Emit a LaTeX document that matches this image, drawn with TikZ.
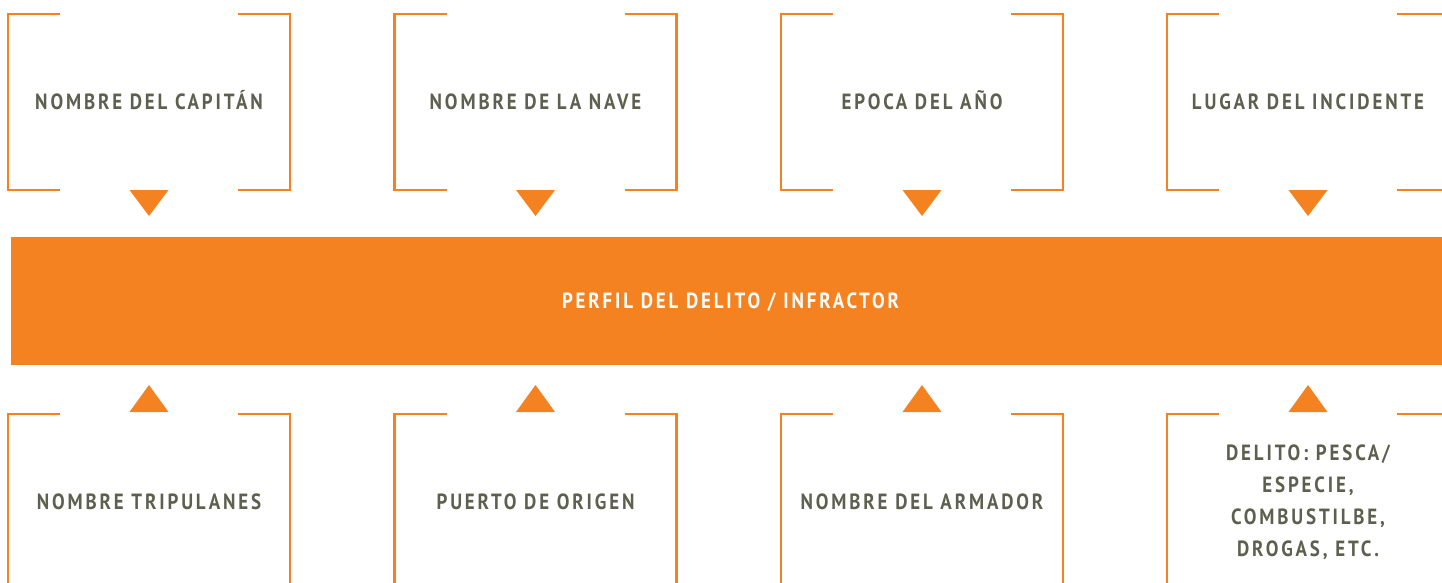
\documentclass[tikz,border=0pt]{standalone}
\usepackage{fontspec}
\usetikzlibrary{positioning,calc}
\newfontfamily\boxfont[FakeStretch=0.86,LetterSpace=13,UprightFont=*-Bold]{PT Sans}
\definecolor{frameorange}{RGB}{245,130,32}
\definecolor{labelgrey}{RGB}{93,96,79}

% side brackets of a box node
\newcommand{\drawbrackets}[1]{%
  \draw[bracket] ($(#1.north west)+(52,0)$) -- (#1.north west) -- (#1.south west) -- ($(#1.south west)+(52,0)$);
  \draw[bracket] ($(#1.north east)+(-52,0)$) -- (#1.north east) -- (#1.south east) -- ($(#1.south east)+(-52,0)$);}
% pointer from a top box down to the bar
\newcommand{\downpointer}[1]{%
  \fill[frameorange] ($(#1.south)+(-19.5,0)$) -- ($(#1.south)+(19.5,0)$) -- ($(#1.south)+(0,26)$) -- cycle;}
% pointer from a bottom box up to the bar
\newcommand{\uppointer}[1]{%
  \fill[frameorange] ($(#1.north)+(-19.5,-2)$) -- ($(#1.north)+(19.5,-2)$) -- ($(#1.north)+(0,-29)$) -- cycle;}

\begin{document}
\begin{tikzpicture}[
    x=1pt, y=-1pt,
    bracket/.style={draw=frameorange, line width=2.2pt},
    infobox/.style={rectangle, minimum width=282pt, minimum height=176pt, inner sep=0pt, outer sep=0pt,
                    font=\boxfont\fontsize{22}{32}\selectfont, text=labelgrey},
    oneline/.style={infobox, text height=15.5pt, text depth=0pt},
    profilebar/.style={rectangle, fill=frameorange, minimum width=1439pt, minimum height=128pt,
                       inner sep=0pt, outer sep=0pt, font=\boxfont\fontsize{22}{24}\selectfont, text=white,
                       text height=15.5pt, text depth=0pt}
]
\useasboundingbox (0,0) rectangle (1442,583);
\clip (0,0) rectangle (1442,583);

% Central bar
\node[profilebar] (perfil) at (730.5, 301) {PERFIL DEL DELITO / INFRACTOR};

% Top row
\node[oneline] (capitan) at (149, 102) {NOMBRE DEL CAPITÁN};
\node[oneline] (nave) at (535.5, 102) {NOMBRE DE LA NAVE};
\node[oneline] (epoca) at (922, 102) {EPOCA DEL AÑO};
\node[oneline] (lugar) at (1308, 102) {LUGAR DEL INCIDENTE};

% Bottom row
\node[oneline] (tripulantes) at (149, 502) {NOMBRE TRIPULANES};
\node[oneline] (puerto) at (535.5, 502) {PUERTO DE ORIGEN};
\node[oneline] (armador) at (922, 502) {NOMBRE DEL ARMADOR};
\node[infobox, align=center] (delito) at (1308, 502) {DELITO: PESCA/\\ESPECIE,\\COMBUSTILBE,\\DROGAS, ETC.};

% Brackets
\drawbrackets{capitan}
\drawbrackets{nave}
\drawbrackets{epoca}
\drawbrackets{lugar}
\drawbrackets{tripulantes}
\drawbrackets{puerto}
\drawbrackets{armador}
\drawbrackets{delito}

% Pointers to the bar
\downpointer{capitan}
\downpointer{nave}
\downpointer{epoca}
\downpointer{lugar}
\uppointer{tripulantes}
\uppointer{puerto}
\uppointer{armador}
\uppointer{delito}

\end{tikzpicture}
\end{document}
